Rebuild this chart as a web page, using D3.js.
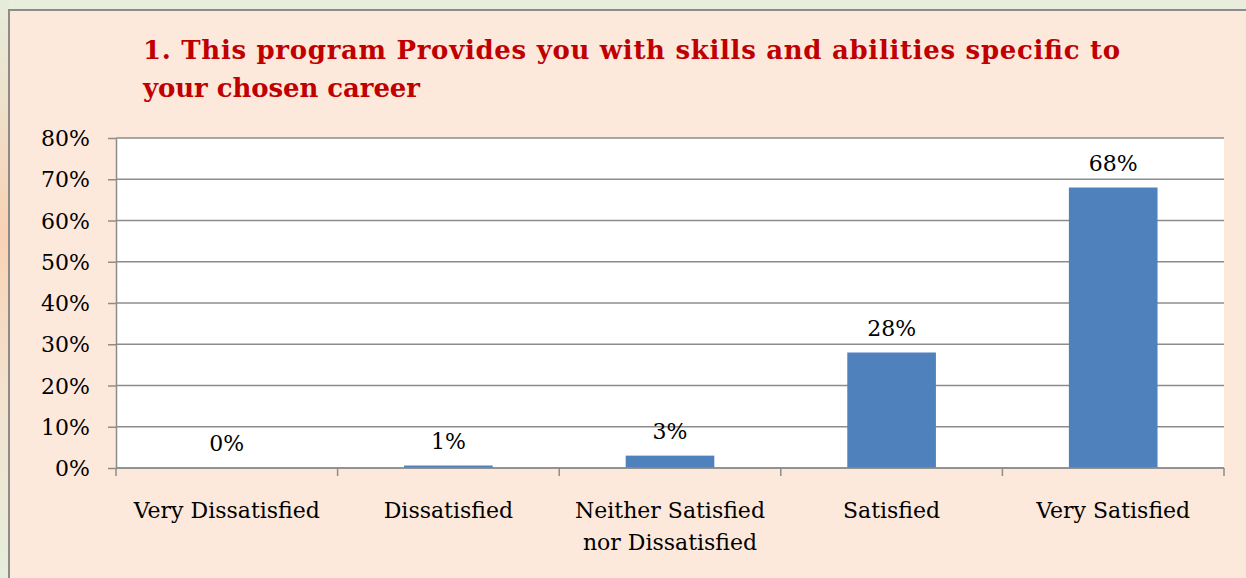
<!DOCTYPE html>
<html lang="en">
<head>
  <meta charset="UTF-8">
  <title>Skills and abilities</title>
  <script src="https://d3js.org/d3.v7.min.js"></script>
  <style>
    html, body { margin: 0; padding: 0; background: #e9eddc; }
    svg { display: block; font-family: 'DejaVu Serif', 'Liberation Serif', serif; }
  </style>
</head>
<body>
  <div id="chart"></div>
  <script>
    const categories = ["Very Dissatisfied", "Dissatisfied", "Neither Satisfied\nnor Dissatisfied", "Satisfied", "Very Satisfied"];
    const values = [0, 0.6, 3, 28, 68];
    const valueLabels = ["0%", "1%", "3%", "28%", "68%"];
    const yTicks = [0, 10, 20, 30, 40, 50, 60, 70, 80];
    const titleLines = ["1. This program Provides you with skills and abilities specific to", "your chosen career"];

    const W = 1246, H = 578;
    const margin = { top: 138, right: 22, bottom: 110, left: 116 };
    const width = W - margin.left - margin.right,
          height = H - margin.top - margin.bottom;
    const fs = 22;

    const svg = d3.select("#chart").append("svg")
      .attr("width", W).attr("height", H);

    // side gradient strip
    const defs = svg.append("defs");
    const grad = defs.append("linearGradient").attr("id", "side").attr("x1", 0).attr("x2", 0).attr("y1", 0).attr("y2", 1);
    grad.append("stop").attr("offset", "0%").attr("stop-color", "#e6eddb");
    grad.append("stop").attr("offset", "40%").attr("stop-color", "#f9d2b4");
    grad.append("stop").attr("offset", "70%").attr("stop-color", "#f3e3cf");
    grad.append("stop").attr("offset", "100%").attr("stop-color", "#e6eddb");
    svg.append("rect").attr("x", 0).attr("y", 0).attr("width", 9).attr("height", H).attr("fill", "url(#side)");

    // panel
    svg.append("rect").attr("x", 9).attr("y", 10).attr("width", W).attr("height", H)
      .attr("fill", "#fde9db").attr("stroke", "#8c8c8c").attr("stroke-width", 2);

    // title
    svg.append("text")
      .attr("fill", "#c00000").attr("font-weight", "bold").attr("font-size", 26)
      .selectAll("tspan").data(titleLines).enter().append("tspan")
      .attr("x", 143).attr("y", (d, i) => 59 + i * 38)
      .attr("textLength", (d, i) => i === 0 ? 977 : 277)
      .attr("lengthAdjust", "spacing")
      .text(d => d);

    const g = svg.append("g").attr("transform", `translate(${margin.left},${margin.top})`);

    const x = d3.scaleBand().domain(categories).range([0, width]).paddingInner(0).paddingOuter(0);
    const y = d3.scaleLinear().domain([0, 80]).range([height, 0]);

    g.append("rect").attr("width", width).attr("height", height).attr("fill", "#ffffff");

    // grid lines
    g.selectAll("line.grid").data(yTicks).enter().append("line")
      .attr("class", "grid")
      .attr("x1", 0).attr("x2", width)
      .attr("y1", d => y(d)).attr("y2", d => y(d))
      .attr("stroke", "#8c8c8c").attr("stroke-width", 1.5);

    // y axis
    const yAxis = g.append("g")
      .call(d3.axisLeft(y).tickValues(yTicks).tickFormat(d => d + "%").tickSize(8).tickSizeOuter(0));
    yAxis.select(".domain").attr("stroke", "#8c8c8c").attr("stroke-width", 1.5);
    yAxis.selectAll(".tick line").attr("stroke", "#8c8c8c").attr("stroke-width", 1.5);
    yAxis.selectAll(".tick text")
      .attr("x", -26).attr("dy", "0.35em")
      .attr("font-size", fs).attr("font-family", "'DejaVu Serif', serif").attr("fill", "#000");

    // bars
    const barW = x.bandwidth() * 0.4;
    g.selectAll("rect.bar").data(values).enter().append("rect")
      .attr("class", "bar")
      .attr("x", (d, i) => x(categories[i]) + (x.bandwidth() - barW) / 2)
      .attr("y", d => y(d))
      .attr("width", barW)
      .attr("height", d => height - y(d))
      .attr("fill", "#4f81bd");

    // value labels
    g.selectAll("text.val").data(values).enter().append("text")
      .attr("class", "val")
      .attr("x", (d, i) => x(categories[i]) + x.bandwidth() / 2)
      .attr("y", d => y(d) - 17)
      .attr("text-anchor", "middle")
      .attr("font-size", fs).attr("fill", "#000")
      .text((d, i) => valueLabels[i]);

    // x axis
    const xAxis = g.append("g").attr("transform", `translate(0,${height})`);
    xAxis.append("line").attr("x1", 0).attr("x2", width).attr("stroke", "#8c8c8c").attr("stroke-width", 1.5);
    const bounds = categories.map(c => x(c)).concat([width]);
    xAxis.selectAll("line.tk").data(bounds).enter().append("line")
      .attr("class", "tk")
      .attr("x1", d => d).attr("x2", d => d).attr("y1", 0).attr("y2", 8)
      .attr("stroke", "#8c8c8c").attr("stroke-width", 1.5);

    const catText = xAxis.selectAll("text.cat").data(categories).enter().append("text")
      .attr("class", "cat")
      .attr("text-anchor", "middle")
      .attr("font-size", fs).attr("fill", "#000");
    catText.selectAll("tspan").data(d => d.split("\n").map(line => ({ line, c: d }))).enter().append("tspan")
      .attr("x", d => x(d.c) + x.bandwidth() / 2)
      .attr("y", (d, i) => 50 + i * 32)
      .text(d => d.line);
  </script>
</body>
</html>
